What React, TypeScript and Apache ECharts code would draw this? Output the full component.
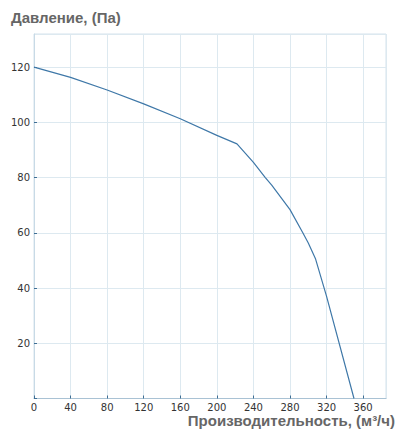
import React, { useEffect, useRef } from "react";
import * as echarts from "echarts";

const flowValues = [0, 40, 80, 120, 160, 200, 222, 240, 253, 260, 280, 294, 300, 308, 320, 350];
const pressureValues = [120, 116.3, 111.7, 106.7, 101.3, 95.3, 92.2, 85.5, 80, 77.3, 68.4, 60, 56.3, 50.5, 37, 0];
const titleY = "Давление, (Па)";
const titleX = "Производительность, (м³/ч)";

export default function App() {
  const ref = useRef<HTMLDivElement>(null);
  useEffect(() => {
    if (!ref.current) return;
    const chart = echarts.init(ref.current, undefined, { renderer: "svg" });
    const data = flowValues.map((x, i) => [x, pressureValues[i]]);
    chart.setOption({
      animation: false,
      title: {
        text: titleY,
        left: 11,
        top: 10,
        padding: 0,
        textStyle: { fontFamily: "Liberation Sans", fontWeight: "bold", fontSize: 15, color: "#666666" },
      },
      graphic: [
        {
          type: "text",
          x: 395,
          y: 414.8,
          style: {
            text: titleX,
            align: "right",
            verticalAlign: "top",
            lineHeight: 12,
            fontFamily: "Liberation Sans",
            fontWeight: "bold",
            fontSize: 15,
            fill: "#666666",
          },
        },
      ],
      grid: {
        left: 34,
        right: 22,
        top: 34,
        bottom: 41.5,
        show: true,
        borderColor: "#d4e3ec",
        borderWidth: 1,
      },
      xAxis: {
        type: "value",
        min: 0,
        max: 385,
        interval: 40,
        axisLine: { show: true, lineStyle: { color: "#a9c2d4", width: 1 } },
        axisTick: { show: true, inside: true, length: 3, lineStyle: { color: "#3e6e94" } },
        axisLabel: {
          margin: 4,
          lineHeight: 10,
          fontFamily: "DejaVu Sans",
          fontSize: 10,
          color: "#333333",
          showMaxLabel: false,
        },
        splitLine: { show: true, lineStyle: { color: "#dde9f0", width: 1 } },
      },
      yAxis: {
        type: "value",
        min: 0,
        max: 132,
        interval: 20,
        axisLine: { show: true, lineStyle: { color: "#c8dae6", width: 1 } },
        axisTick: { show: true, inside: true, length: 3, lineStyle: { color: "#3e6e94" } },
        axisLabel: {
          margin: 4,
          fontFamily: "DejaVu Sans",
          fontSize: 10,
          color: "#333333",
          showMaxLabel: false,
          formatter: (v: number) => (v === 0 ? "" : String(v)),
        },
        splitLine: { show: true, lineStyle: { color: "#dde9f0", width: 1 } },
      },
      series: [
        {
          type: "line",
          data,
          showSymbol: false,
          symbol: "none",
          lineStyle: { color: "#3f78a8", width: 1.2 },
        },
      ],
    });
    return () => chart.dispose();
  }, []);
  return <div ref={ref} style={{ width: 408, height: 440, margin: -8 }} />;
}
